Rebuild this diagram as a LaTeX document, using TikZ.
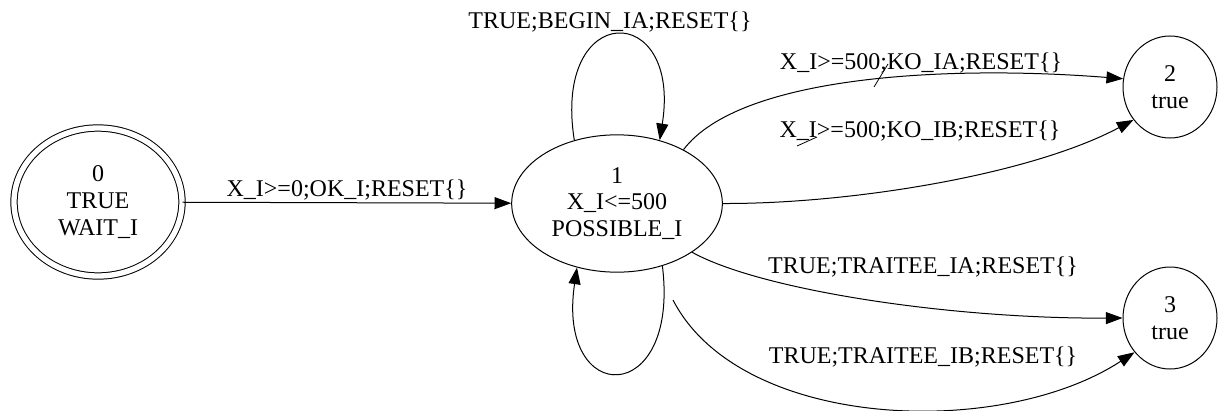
\documentclass[tikz,border=0pt]{standalone}
\usepackage{fontspec}
\setmainfont{Liberation Serif}
\usetikzlibrary{arrows.meta,shapes.geometric}
\begin{document}
\begin{tikzpicture}[x=0.75pt,y=-0.75pt,
  font=\fontsize{18}{20}\selectfont,
  line width=0.75pt,
  state/.style={draw, ellipse, inner sep=0pt, align=center},
  lbl/.style={inner sep=0pt},
  arr/.style={-{Triangle[length=12.5pt,width=9pt]}},
  strokemark/.style={line width=0.6pt}]
\useasboundingbox (0,0) rectangle (1219,410);

% states
\node[state, double, double distance=4pt, minimum width=126pt, minimum height=111pt] (n0) at (98,202) {0\\TRUE\\WAIT\_I};
\node[state, minimum width=158pt, minimum height=103pt] (n1) at (617,203.5) {1\\X\_I<=500\\POSSIBLE\_I};
\node[state, minimum width=70.5pt, minimum height=76.5pt] (n2) at (1170,87) {2\\true};
\node[state, minimum width=70.5pt, minimum height=76.5pt] (n3) at (1170,318) {3\\true};

% transitions
\draw[arr] (n0) -- (n1);
\draw[arr] (n1.124) .. controls (552,0) and (682,0) .. (n1.56);
\draw[arr] (n1.-54) .. controls (680,408) and (556,408) .. (n1.-122);
\draw[arr] (n1.39) .. controls (740,75) and (950,65) .. (n2.170);
\draw[arr] (n1.east) .. controls (850,204) and (1030,175) .. (n2.-138);
\draw[arr] (n1.-33) .. controls (760,290) and (950,319) .. (n3.west);
\coordinate (s13b) at (673,300);
\draw[arr] (s13b) .. controls (740,430) and (1000,440) .. (n3.-136);

% small stray strokes across labels
\coordinate (m1a) at (874,87);
\coordinate (m1b) at (888,64);
\coordinate (m2a) at (797,146);
\coordinate (m2b) at (817,137);
\draw[strokemark] (m1a) -- (m1b);
\draw[strokemark] (m2a) -- (m2b);

% labels
\node[lbl] (l01) at (347,190) {X\_I>=0;OK\_I;RESET\{\}};
\node[lbl] (l11a) at (610,22) {TRUE;BEGIN\_IA;RESET\{\}};
\node[lbl] (l12a) at (921,63) {X\_I>=500;KO\_IA;RESET\{\}};
\node[lbl] (l12b) at (920,131) {X\_I>=500;KO\_IB;RESET\{\}};
\node[lbl] (l13a) at (923,267) {TRUE;TRAITEE\_IA;RESET\{\}};
\node[lbl] (l13b) at (923,357) {TRUE;TRAITEE\_IB;RESET\{\}};
\end{tikzpicture}
\end{document}
